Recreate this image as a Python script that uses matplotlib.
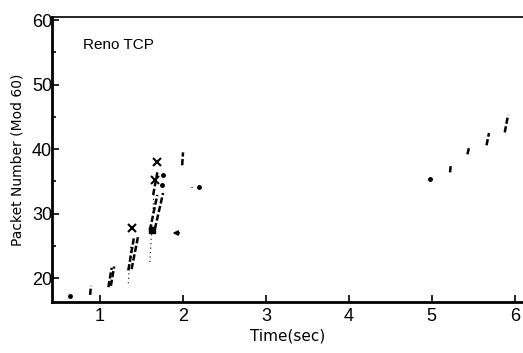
import matplotlib
matplotlib.use("Agg")
import matplotlib.pyplot as plt
from matplotlib.ticker import MultipleLocator

# Packet transmissions (short dashed runs): start/end time and packet number
seg_x0 = [0.88, 1.10, 1.13, 1.34, 1.38, 1.60, 1.66, 1.64, 1.99, 5.22, 5.43, 5.66, 5.88]
seg_x1 = [0.89, 1.14, 1.17, 1.41, 1.46, 1.69, 1.76, 1.69, 2.00, 5.23, 5.45, 5.69, 5.92]
seg_y0 = [17.4, 18.6, 18.8, 21.2, 21.4, 27.4, 27.6, 32.9, 37.5, 36.4, 39.2, 40.6, 42.6]
seg_y1 = [18.8, 21.6, 21.8, 26.4, 26.6, 32.9, 33.2, 36.4, 39.5, 37.7, 40.3, 42.5, 45.3]

# Faint dotted runs (ACKs)
dot_x0 = [1.34, 1.60, 2.10]
dot_x1 = [1.37, 1.65, 2.15]
dot_y0 = [19.2, 22.5, 34.2]
dot_y1 = [25.1, 33.3, 34.2]

# Single packets
pt_x = [0.64, 4.98, 2.19, 1.76, 1.75]
pt_y = [17.2, 35.3, 34.1, 36.0, 34.4]

# Dropped packets
drop_x = [1.39, 1.69, 1.66]
drop_y = [27.8, 38.0, 35.2]

# Retransmission start
sq_x = [1.63]
sq_y = [27.4]

# Arrow (tail -> head)
arrow_tail = (1.99, 27.0)
arrow_head = (1.84, 27.0)

xticks = [1, 2, 3, 4, 5, 6]
yticks = [20, 30, 40, 50, 60]

fig = plt.figure(figsize=(5.23, 3.53), dpi=100)
ax = fig.add_axes([0.0994, 0.1445, 0.9006, 0.8075])

for x0, x1, y0, y1 in zip(seg_x0, seg_x1, seg_y0, seg_y1):
    ax.plot([x0, x1], [y0, y1], color="black", lw=1.8, ls=(0, (2.5, 1.0)),
            solid_capstyle="butt")
for x0, x1, y0, y1 in zip(dot_x0, dot_x1, dot_y0, dot_y1):
    ax.plot([x0, x1], [y0, y1], color="black", lw=0.8, ls=(0, (1, 3)))
ax.plot(pt_x, pt_y, "o", color="black", ms=2.5)
ax.plot(drop_x, drop_y, "x", color="black", ms=6, mew=1.5)
ax.plot(sq_x, sq_y, "s", color="black", ms=4)
ax.annotate("", xy=arrow_head, xytext=arrow_tail,
            arrowprops=dict(arrowstyle="-|>", color="black", lw=1.2,
                            mutation_scale=7))

ax.set_xlim(0.42, 6.1)
ax.set_ylim(16.3, 60.5)
ax.set_xticks(xticks)
ax.set_yticks(yticks)
ax.yaxis.set_minor_locator(MultipleLocator(5))
ax.tick_params(axis="both", direction="in", length=5, width=1.2, labelsize=13)
ax.tick_params(axis="y", which="minor", direction="in", length=3, width=1.2)
ax.tick_params(axis="y", pad=0)
ax.tick_params(axis="x", pad=4)
for lab in ax.get_xticklabels() + ax.get_yticklabels():
    lab.set_fontfamily("Liberation Sans")

ax.spines["right"].set_visible(False)
for s in ["left", "bottom"]:
    ax.spines[s].set_linewidth(2.0)
ax.spines["top"].set_linewidth(1.2)

ax.set_xlabel("Time(sec)", fontsize=11, labelpad=3)
ax.set_ylabel("Packet Number (Mod 60)", fontsize=10, labelpad=5)
ax.text(0.065, 0.90, "Reno TCP", transform=ax.transAxes, fontsize=11,
        family="Liberation Sans", va="center", ha="left")

fig.savefig("out.png", dpi=100)
